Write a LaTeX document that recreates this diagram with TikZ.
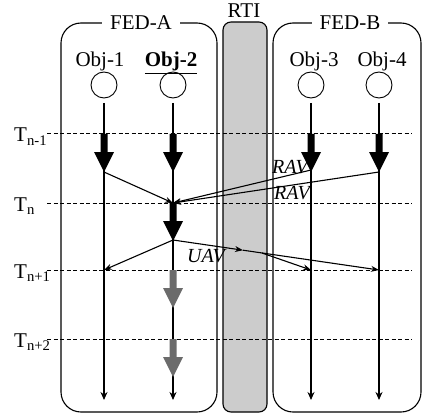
\documentclass[tikz,border=0pt]{standalone}
\usepackage{fontspec}
\setmainfont{Liberation Serif}
\usetikzlibrary{arrows.meta}
\tikzset{
  fedbox/.style={draw, line width=1.1pt, rounded corners=20pt},
  rtibox/.style={draw, line width=1.1pt, rounded corners=8pt, fill=black!20},
  tline/.style={dash pattern=on 4pt off 2.5pt, line width=1pt},
  life/.style={line width=1.2pt, -{Stealth[length=8pt,width=7pt]}},
  msg/.style={line width=1.1pt, -{Stealth[length=8pt,width=6pt]}},
  obj/.style={draw, circle, minimum size=26pt, inner sep=0pt, line width=0.9pt},
  boxlbl/.style={fill=white, inner xsep=8pt, inner ysep=3pt, anchor=base},
  objlbl/.style={inner sep=0pt, anchor=base},
  tlbl/.style={inner sep=0pt, anchor=base west},
  avlbl/.style={inner sep=0pt, font=\fontsize{20}{24}\selectfont\itshape},
  bigarrow/.pic={\fill[pic actions] (-3.5,0) -- (3.5,0) -- (3.5,18) -- (10,18) -- (0,38) -- (-10,18) -- (-3.5,18) -- cycle;}
}
\begin{document}
\begin{tikzpicture}[x=1pt,y=-1pt,font=\fontsize{21}{25}\selectfont]
\useasboundingbox (0,0) rectangle (422,414);
% boxes
\draw[fedbox] (61,23) rectangle (217,412);
\draw[fedbox] (273,23) rectangle (421,412);
\draw[rtibox] (223,22) rectangle (267,412);
\node[boxlbl] (feda) at (141,30) {FED-A};
\node[boxlbl] (fedb) at (350,30) {FED-B};
\node[objlbl] (rti) at (244,18) {RTI};
% time lines
\foreach \y/\n in {134/tm1,203/tn,270/tp1,339/tp2}{
  \coordinate (\n L) at (47,\y);
  \coordinate (\n R) at (412,\y);
  \draw[tline] (\n L) -- (\n R);
}
\node[tlbl] (Tm1) at (14,142) {T\textsubscript{n-1}};
\node[tlbl] (Tn) at (14,211) {T\textsubscript{n}};
\node[tlbl] (Tp1) at (14,278) {T\textsubscript{n+1}};
\node[tlbl] (Tp2) at (14,347) {T\textsubscript{n+2}};
% objects
\node[objlbl] (l1) at (100,67) {Obj-1};
\node[objlbl] (l2) at (171,67) {\textbf{\underline{Obj-2}}};
\node[objlbl] (l3) at (314,67) {Obj-3};
\node[objlbl] (l4) at (382,67) {Obj-4};
\node[obj] (c1) at (104,85) {};
\node[obj] (c2) at (173,85) {};
\node[obj] (c3) at (311,85) {};
\node[obj] (c4) at (379,85) {};
\foreach \i/\x in {1/104,2/173,3/311,4/379}{
  \coordinate (s\i) at (\x,103);
  \coordinate (e\i) at (\x,400);
  \draw[life] (s\i) -- (e\i);
}
% big arrows
\foreach \x in {104,173,311,379}{
  \pic[fill=black] at (\x,134) {bigarrow};
}
\pic[fill=black] at (173,203) {bigarrow};
\pic[fill=black!58] at (173,270) {bigarrow};
\pic[fill=black!58] at (173,339) {bigarrow};
% message points
\coordinate (a1) at (104,172);
\coordinate (a3) at (311,170);
\coordinate (a4) at (379,172);
\coordinate (b2) at (173,203);
\coordinate (t2) at (173,240);
\coordinate (d1) at (104,270);
\coordinate (d3) at (311,270);
\coordinate (d4) at (379,270);
\coordinate (r) at (243,250.2);
\coordinate (sp) at (262,253);
\draw[msg] (a1) -- (b2);
\draw[msg] (a3) -- (b2);
\draw[msg] (a4) -- (b2);
\draw[msg] (t2) -- (d1);
\draw[msg] (t2) -- (r);
\draw[msg] (r) -- (d4);
\draw[msg] (sp) -- (d3);
\node[avlbl] (rav1) at (290,167) {RAV};
\node[avlbl] (rav2) at (292,193) {RAV};
\node[avlbl] (uav) at (206,256) {UAV};
\end{tikzpicture}
\end{document}
